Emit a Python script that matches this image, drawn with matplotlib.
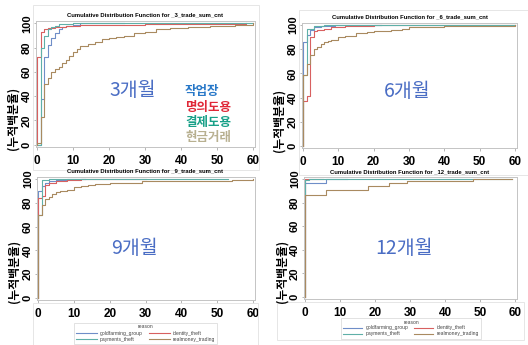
import numpy as np
import matplotlib.pyplot as plt

plt.rcParams['font.family'] = ['Liberation Sans', 'Noto Sans CJK KR']

W, H = 528, 345

# series names and SAS-style colors
reasons = ['goldfarming_group', 'identity_theft', 'payments_theft', 'realmoney_trading']
colors = ['#6F8EC8', '#D86060', '#5FB0A8', '#A98A60']

# cumulative percent (step at each x) per period
x3 = {
    'goldfarming_group': [0, 1, 2, 3, 4, 5, 6, 7, 8, 10, 12, 24],
    'identity_theft': [0, 1, 2, 3, 5, 8, 12, 20, 30, 58],
    'payments_theft': [0, 1, 2, 3, 4, 5, 6, 10, 60],
    'realmoney_trading': [0, 1, 2, 3, 4, 5, 6, 7, 8, 9, 10, 11, 12, 14, 16, 18, 20, 22, 24,
                          27, 30, 33, 37, 42, 48, 55, 60],
}
y3 = {
    'goldfarming_group': [0, 38, 72, 82, 88, 92, 95, 97, 98, 99, 100, 100],
    'identity_theft': [72, 93, 95, 96, 97, 98, 98.5, 99, 99.5, 100],
    'payments_theft': [0, 80, 90, 95, 97, 98, 99.5, 100, 100],
    'realmoney_trading': [1, 23, 50, 55, 60, 62, 64, 67, 70, 73, 76, 79, 81, 83, 85, 87, 88,
                          89, 90, 92, 93, 95, 96, 97, 98, 99, 100],
}
x6 = {
    'goldfarming_group': [0, 1, 2, 3, 5, 9, 22],
    'identity_theft': [0, 1, 2, 3, 4, 6, 8, 12, 20, 60],
    'payments_theft': [0, 1, 3, 6, 60],
    'realmoney_trading': [0, 1, 2, 3, 4, 5, 6, 7, 8, 10, 12, 15, 18, 20, 25, 28, 30, 40, 50, 60],
}
y6 = {
    'goldfarming_group': [86, 92, 96, 98, 99, 100, 100],
    'identity_theft': [37, 41, 90, 95, 96, 97, 98, 99, 100, 100],
    'payments_theft': [59, 97, 99, 100, 100],
    'realmoney_trading': [59, 68, 75, 80, 82, 84, 86, 87, 88, 90, 91, 93, 94, 95, 96, 97, 98,
                          99, 99.5, 100],
}
x9 = {
    'goldfarming_group': [0, 1, 2, 3, 5, 8, 13],
    'identity_theft': [0, 1, 2, 3, 5, 8, 12, 30],
    'payments_theft': [0, 1, 3, 53],
    'realmoney_trading': [0, 1, 2, 3, 4, 5, 6, 8, 10, 12, 14, 16, 20, 25, 29, 40, 54, 60],
}
y9 = {
    'goldfarming_group': [90, 94, 97, 98, 99, 100, 100],
    'identity_theft': [84, 86, 95, 97, 98, 99, 100, 100],
    'payments_theft': [70, 99, 100, 100],
    'realmoney_trading': [70, 78, 83, 85, 87, 89, 90, 91, 93, 94, 95, 96, 96.5, 97, 98, 98.5,
                          99.5, 100],
}
x12 = {
    'goldfarming_group': [0, 6, 12],
    'identity_theft': [0, 5],
    'payments_theft': [0, 1, 59],
    'realmoney_trading': [0, 6, 18, 24, 29, 48, 59],
}
y12 = {
    'goldfarming_group': [97, 100, 100],
    'identity_theft': [100, 100],
    'payments_theft': [99, 100, 100],
    'realmoney_trading': [86, 91, 94, 97, 98, 100, 100],
}

periods = ['3', '6', '9', '12']
xs_all = [x3, x6, x9, x12]
ys_all = [y3, y6, y9, y12]
big_labels = ['3개월', '6개월', '9개월', '12개월']
yticks = [0, 20, 40, 60, 80, 100]
xticks = [0, 10, 20, 30, 40, 50, 60]

# layout in pixels: (left, top, right, bottom)
boxes = [(36, 21, 255, 147), (302, 22.6, 516.7, 148.4),
         (37, 176.6, 254.8, 300.4), (304, 176.6, 516.8, 299.4)]
title_pos = [(145, 15), (410, 17), (145, 171), (410, 172)]
ylab_pos = [(13, 118), (279, 120), (14, 271), (282, 271)]
big_pos = [(133, 90), (407, 92), (134, 248), (404, 249)]

fig = plt.figure(figsize=(W / 100, H / 100), dpi=100)

# light outer frames of the pasted panels
for (l, t, r, b) in [(33, 5, 259, 170), (299, 10, 540, 175), (33, 303, 258, 345), (277, 302, 524, 340)]:
    fig.add_artist(plt.Rectangle((l / W, 1 - b / H), (r - l) / W, (b - t) / H,
                                 transform=fig.transFigure, fill=False, ec='#e2e2e2', lw=0.6))

axes = []
for i, (l, t, r, b) in enumerate(boxes):
    ax = fig.add_axes([l / W, 1 - b / H, (r - l) / W, (b - t) / H])
    xs, ys = xs_all[i], ys_all[i]
    for name, c in zip(reasons, colors):
        x = np.r_[xs[name][0], xs[name]]
        y = np.r_[0, ys[name]]
        ax.step(x, y, where='post', color=c, lw=0.8, label=name)
    ax.set_xlim(-0.3, 60.5)
    ax.set_ylim(-2, 102)
    ax.set_xticks(xticks)
    ax.set_yticks(yticks)
    ax.tick_params(axis='x', length=2.5, width=0.5, color='#999999', pad=3, labelsize=8.5)
    ax.tick_params(axis='y', length=1.5, width=0.5, color='#999999', pad=1.5, labelsize=8,
                   labelrotation=90)
    for lab in ax.get_xticklabels() + ax.get_yticklabels():
        lab.set_fontweight('bold')
    for lab in ax.get_yticklabels():
        lab.set_va('center')
    for s in ax.spines.values():
        s.set_color('#c4c4c4')
        s.set_linewidth(0.7)
    tx, ty = title_pos[i]
    fig.text(tx / W, 1 - ty / H,
             'Cumulative Distribution Function for _%s_trade_sum_cnt' % periods[i],
             fontsize=4.2, fontweight='bold', ha='center', va='center')
    lx, ly = ylab_pos[i]
    fig.text(lx / W, 1 - ly / H, '(누적백분율)', rotation=90, fontsize=8.5, fontweight='bold',
             ha='center', va='center', family=['Noto Sans CJK KR'])
    bx, by = big_pos[i]
    fig.text(bx / W, 1 - by / H, big_labels[i], fontsize=14, color='#4a6dc4',
             ha='center', va='center', family=['Noto Sans CJK KR'])
    axes.append(ax)

# colored Korean reason labels on the first panel
kr_names = ['작업장', '명의도용', '결제도용', '현금거래']
kr_colors = ['#2878c8', '#e02838', '#18a088', '#b8b090']
kr_y = [91.7, 108, 123, 138]
for name, c, yy in zip(kr_names, kr_colors, kr_y):
    fig.text(185 / W, 1 - yy / H, name, fontsize=9, color=c, fontweight='bold',
             ha='left', va='center', family=['Noto Sans CJK KR'])

# legends below bottom panels
for ax, (cx, cy), hl in zip(axes[2:], [(145.5, 333), (411, 328)], [4.2, 3.8]):
    h, lbl = ax.get_legend_handles_labels()
    order = [0, 2, 1, 3]
    leg = fig.legend([h[k] for k in order], [lbl[k] for k in order], ncol=2,
                     loc='center', bbox_to_anchor=(cx / W, 1 - cy / H),
                     fontsize=3.6, title='reason', title_fontsize=3.6,
                     frameon=True, fancybox=False, edgecolor='#cccccc',
                     handlelength=hl, columnspacing=1.2, handletextpad=0.6,
                     labelspacing=0.2, borderpad=0.4, borderaxespad=0)
    leg.get_frame().set_linewidth(0.5)
    for t in leg.get_texts():
        t.set_color('#444444')
    leg.get_title().set_color('#444444')

fig.savefig('out.png', dpi=100)
